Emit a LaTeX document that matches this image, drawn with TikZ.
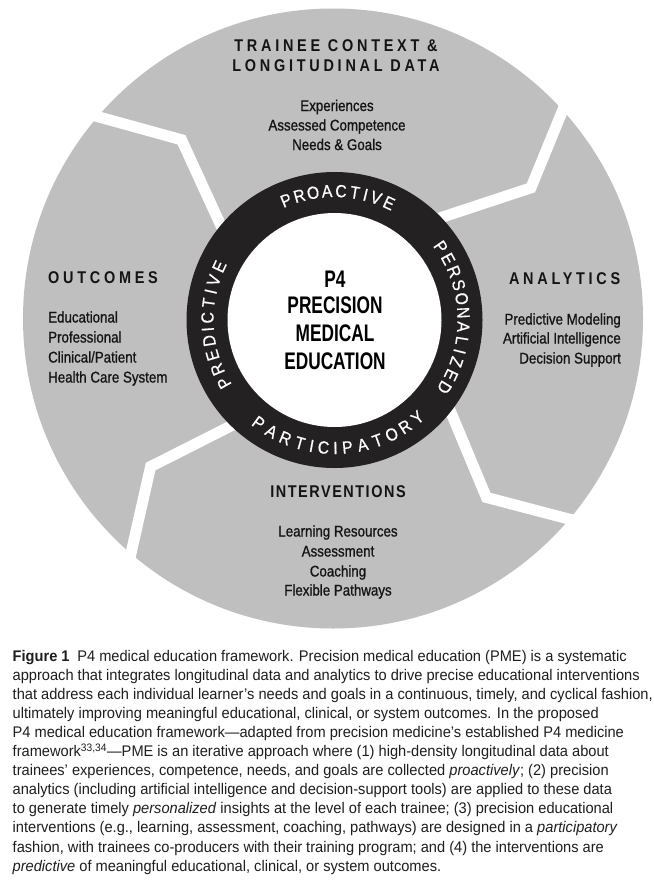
\documentclass[tikz,border=0pt]{standalone}
\usepackage{fontspec}
\setmainfont{Liberation Sans}
\newfontfamily\capfont{Liberation Sans}[FakeStretch=0.95]
\newfontfamily\itemfont{Liberation Sans}[FakeStretch=0.86,FakeBold=0.9]
\newfontfamily\headfont{Liberation Sans}[FakeStretch=0.85,LetterSpace=22]
\newfontfamily\headtightfont{Liberation Sans}[FakeStretch=0.85,LetterSpace=9]
\newfontfamily\centerfont{Liberation Sans}[FakeStretch=0.72]
\newfontfamily\ringfont{Liberation Sans}[FakeStretch=0.9,FakeBold=0.6]
\usetikzlibrary{calc}
\definecolor{discgrey}{RGB}{191,191,191}
\definecolor{ringdark}{RGB}{36,33,34}
\definecolor{inkblack}{RGB}{20,20,20}
\definecolor{captiongrey}{RGB}{30,30,30}
\begin{document}
\begin{tikzpicture}[x=1pt,y=1pt,
  sepband/.style={draw=white,line width=11pt,line join=miter},
  ringletter/.style={text=white,font=\ringfont\fontsize{17.5}{17.5}\selectfont,inner sep=0pt},
  headtxt/.style={text=inkblack,font=\headfont\bfseries\fontsize{17}{17}\selectfont,inner sep=0pt,anchor=base},
  headtighttxt/.style={text=inkblack,font=\headtightfont\bfseries\fontsize{17}{17}\selectfont,inner sep=0pt,anchor=base},
  itemtxt/.style={text=inkblack,font=\itemfont\fontsize{15.5}{15.5}\selectfont,inner sep=0pt,anchor=base},
  centertxt/.style={text=black,font=\centerfont\bfseries\fontsize{24}{24}\selectfont,inner sep=0pt,anchor=base},
  captxt/.style={text=captiongrey,font=\capfont\fontsize{15.4}{19}\selectfont,inner sep=0pt,anchor=base west}]
\fill[white] (0,0) rectangle (653,-883);
\useasboundingbox (0,0) rectangle (653,-883);
% grey disc
\fill[discgrey] (333,-318.5) circle (310);
% separators
\begin{scope}[shift={(333.5,-319)}]
  \coordinate (tli) at (139.3:152); \coordinate (tlb) at (130.3:235); \coordinate (tlo) at (139.3:310);
  \coordinate (tri) at (42.1:155);  \coordinate (trb) at (33.6:237);  \coordinate (tro) at (42.5:312);
  \coordinate (bri) at (-39.5:155); \coordinate (brb) at (-49.4:235); \coordinate (bro) at (-40:313);
  \coordinate (bli) at (225.7:152); \coordinate (blb) at (218.9:235); \coordinate (blo) at (229:308);
  \draw[sepband] ($(tlb)!1.25!(tli)$) -- (tlb) -- ($(tlb)!1.4!(tlo)$);
  \draw[sepband] ($(trb)!1.25!(tri)$) -- (trb) -- ($(trb)!1.4!(tro)$);
  \draw[sepband] ($(brb)!1.25!(bri)$) -- (brb) -- ($(brb)!1.4!(bro)$);
  \draw[sepband] ($(blb)!1.25!(bli)$) -- (blb) -- ($(blb)!1.4!(blo)$);
\end{scope}
% dark ring
\begin{scope}[shift={(334.5,-320)}]
  \fill[ringdark] (0,0) circle (148);
  \fill[white] (0,0) circle (107);
  \foreach \ch/\a [count=\i] in {P/112,R/105.78,O/99.55,A/93.33,C/87.1,T/80.88,I/76.05,V/71.23,E/65}
    \node[ringletter,rotate=\a-90] (pro\i) at (\a:129) {\ch};
  \foreach \ch/\a [count=\i] in {P/34.5,E/28.24,R/21.99,S/15.73,O/9.48,N/3.22,A/-3.03,L/-9.29,I/-14.14,Z/-18.99,E/-25.24,D/-31.5}
    \node[ringletter,rotate=\a-90] (per\i) at (\a:129) {\ch};
  \foreach \ch/\a [count=\i] in {P/233.6,A/240.52,R/247.44,T/254.36,I/259.72,C/265.08,I/270.44,P/275.8,A/282.72,T/289.64,O/296.56,R/303.48,Y/310.4}
    \node[ringletter,rotate=\a+90] (par\i) at (\a:128) {\ch};
  \foreach \ch/\a [count=\i] in {P/209.6,R/202.87,E/196.14,D/189.41,I/184.2,C/178.99,T/172.26,I/167.05,V/161.83,E/155.1}
    \node[ringletter,rotate=\a-90] (pre\i) at (\a:127) {\ch};
\end{scope}
% centre text
\node[centertxt] (cp4) at (335,-287.5) {P4};
\node[centertxt] (cprec) at (335,-313.5) {PRECISION};
\node[centertxt] (cmed) at (335,-341.5) {MEDICAL};
\node[centertxt] (cedu) at (335,-369.5) {EDUCATION};
% headings
\node[headtxt] (h1a) at (336,-51.3) {TRAINEE CONTEXT \&};
\node[headtxt] (h1b) at (336,-71.3) {LONGITUDINAL DATA};
\node[headtxt,anchor=base west] (h2) at (48,-283.3) {OUTCOMES};
\node[headtxt,anchor=base east] (h3) at (620.5,-284) {ANALYTICS};
\node[headtighttxt] (h4) at (338,-497) {INTERVENTIONS};
% items
\node[itemtxt] (t1) at (337,-111) {Experiences};
\node[itemtxt] (t2) at (337,-130.5) {Assessed Competence};
\node[itemtxt] (t3) at (337,-150) {Needs \& Goals};
\node[itemtxt,anchor=base west] (o1) at (48,-322.5) {Educational};
\node[itemtxt,anchor=base west] (o2) at (48,-342.5) {Professional};
\node[itemtxt,anchor=base west] (o3) at (48,-362.5) {Clinical/Patient};
\node[itemtxt,anchor=base west] (o4) at (48,-382.5) {Health Care System};
\node[itemtxt,anchor=base east] (a1) at (621,-324.5) {Predictive Modeling};
\node[itemtxt,anchor=base east] (a2) at (621,-343.5) {Artificial Intelligence};
\node[itemtxt,anchor=base east] (a3) at (621,-363.5) {Decision Support};
\node[itemtxt] (i1) at (338,-536.5) {Learning Resources};
\node[itemtxt] (i2) at (338,-556.5) {Assessment};
\node[itemtxt] (i3) at (338,-576.5) {Coaching};
\node[itemtxt] (i4) at (338,-595.5) {Flexible Pathways};
% caption
\foreach \t [count=\i] in {
  {{\bfseries Figure 1}\enspace P4 medical education framework. Precision medical education (PME) is a systematic},
  {approach that integrates longitudinal data and analytics to drive precise educational interventions},
  {that address each individual learner’s needs and goals in a continuous, timely, and cyclical fashion,},
  {ultimately improving meaningful educational, clinical, or system outcomes. In the proposed},
  {P4 medical education framework—adapted from precision medicine’s established P4 medicine},
  {framework\textsuperscript{33,34}—PME is an iterative approach where (1) high-density longitudinal data about},
  {trainees’ experiences, competence, needs, and goals are collected \textit{proactively}; (2) precision},
  {analytics (including artificial intelligence and decision-support tools) are applied to these data},
  {to generate timely \textit{personalized} insights at the level of each trainee; (3) precision educational},
  {interventions (e.g., learning, assessment, coaching, pathways) are designed in a \textit{participatory}},
  {fashion, with trainees co-producers with their training program; and (4) the interventions are},
  {\textit{predictive} of meaningful educational, clinical, or system outcomes.}}
  \node[captxt] (cap\i) at (12.5,{-661-(\i-1)*19.1}) {\t};
\end{tikzpicture}
\end{document}
